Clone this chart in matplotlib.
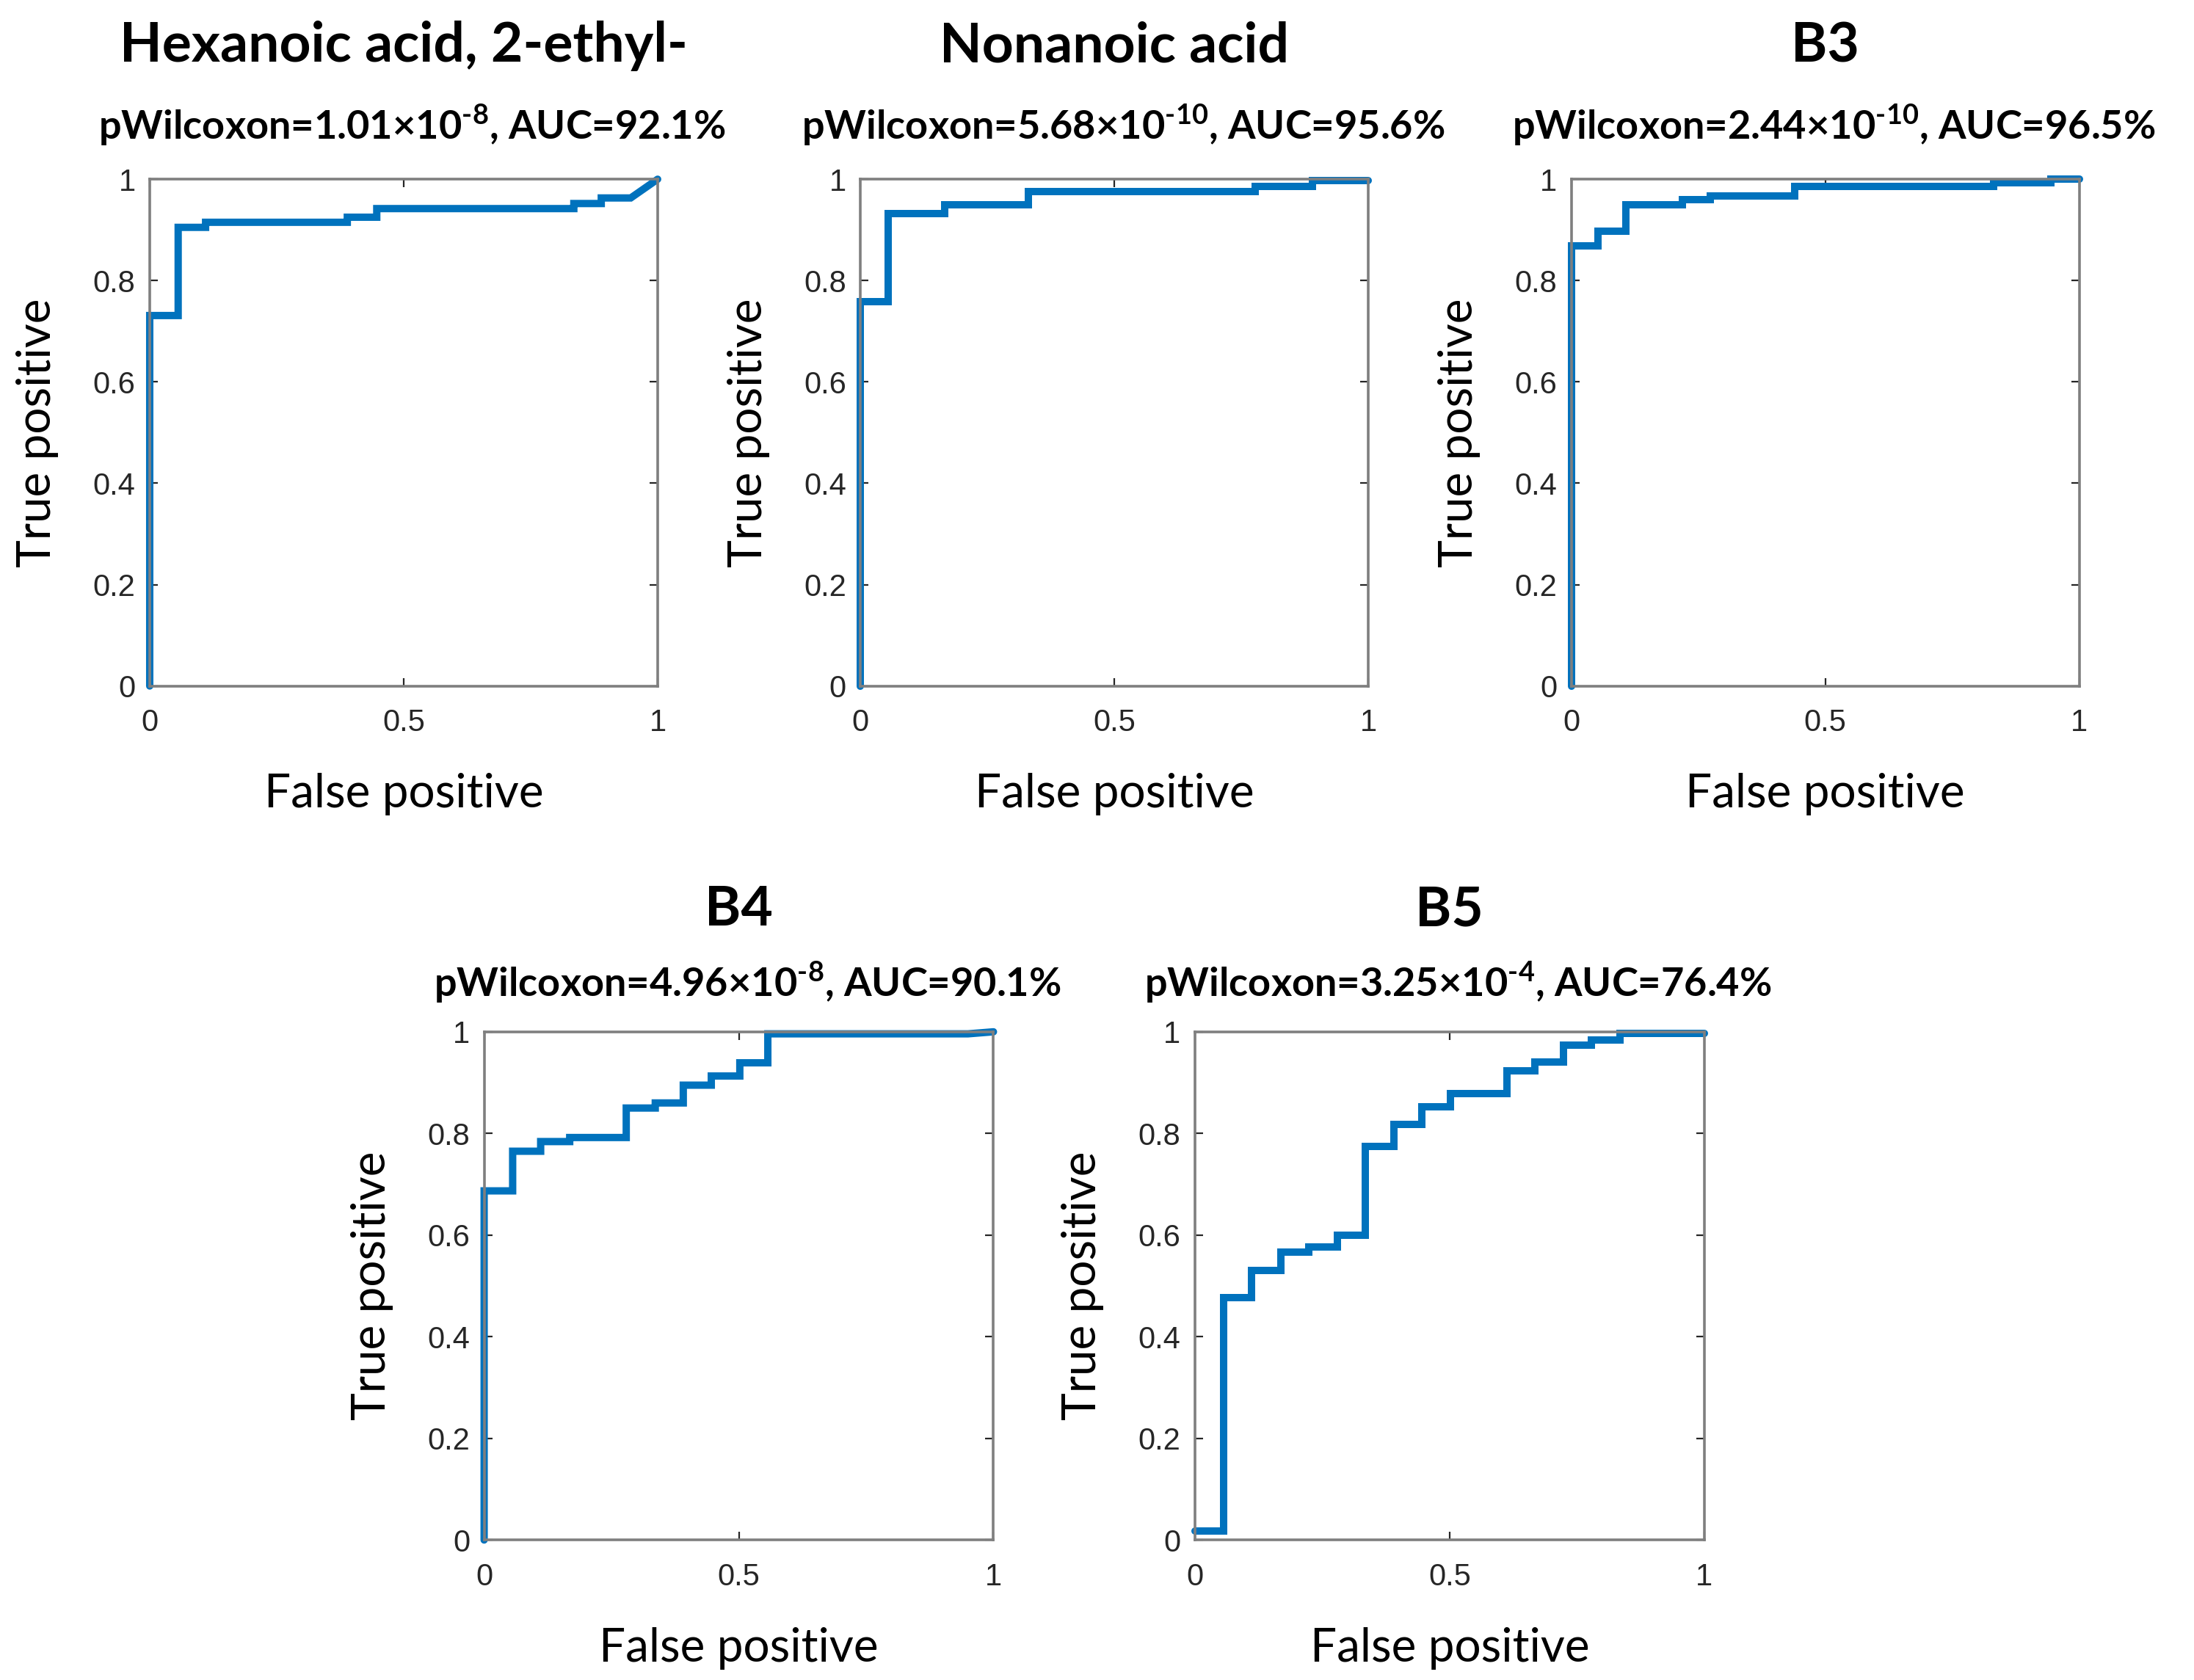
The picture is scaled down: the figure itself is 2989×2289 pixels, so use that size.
import matplotlib
matplotlib.use("Agg")
import matplotlib.pyplot as plt

plt.rcParams['mathtext.fontset'] = 'custom'
plt.rcParams['mathtext.rm'] = 'Lato:bold'
plt.rcParams['mathtext.it'] = 'Lato:bold'
plt.rcParams['mathtext.bf'] = 'Lato:bold'

# Panel titles and statistics
titles = ["Hexanoic acid, 2-ethyl-", "Nonanoic acid", "B3", "B4", "B5"]
p_mant = ["1.01", "5.68", "2.44", "4.96", "3.25"]
p_exp = ["-8", "-10", "-10", "-8", "-4"]
auc = ["92.1", "95.6", "96.5", "90.1", "76.4"]

# ROC curves (false positive, true positive)
fpr_hex = [0, 0, 0.056, 0.056, 0.11, 0.11, 0.389, 0.389, 0.447, 0.447, 0.835, 0.835, 0.889, 0.889, 0.947, 1.0]
tpr_hex = [0, 0.731, 0.731, 0.905, 0.905, 0.915, 0.915, 0.925, 0.925, 0.942, 0.942, 0.952, 0.952, 0.963, 0.963, 1.0]

fpr_non = [0, 0, 0.054, 0.054, 0.165, 0.165, 0.331, 0.331, 0.777, 0.777, 0.889, 0.889, 1.0]
tpr_non = [0, 0.758, 0.758, 0.932, 0.932, 0.949, 0.949, 0.976, 0.976, 0.986, 0.986, 0.997, 0.997]

fpr_b3 = [0, 0, 0.052, 0.052, 0.107, 0.107, 0.219, 0.219, 0.273, 0.273, 0.440, 0.440, 0.831, 0.831, 0.944, 0.944, 1.0]
tpr_b3 = [0, 0.868, 0.868, 0.898, 0.898, 0.950, 0.950, 0.960, 0.960, 0.967, 0.967, 0.986, 0.986, 0.993, 0.993, 1.0, 1.0]

fpr_b4 = [0, 0, 0.056, 0.056, 0.111, 0.111, 0.168, 0.168, 0.279, 0.279, 0.336, 0.336, 0.391, 0.391,
          0.446, 0.446, 0.502, 0.502, 0.557, 0.557, 0.95, 1.0]
tpr_b4 = [0, 0.687, 0.687, 0.765, 0.765, 0.784, 0.784, 0.792, 0.792, 0.850, 0.850, 0.860, 0.860, 0.895,
          0.895, 0.913, 0.913, 0.939, 0.939, 0.996, 0.996, 1.0]

fpr_b5 = [0, 0.056, 0.056, 0.111, 0.111, 0.168, 0.168, 0.223, 0.223, 0.279, 0.279, 0.334, 0.334,
          0.391, 0.391, 0.446, 0.446, 0.502, 0.502, 0.612, 0.612, 0.668, 0.668, 0.723, 0.723,
          0.779, 0.779, 0.834, 0.834, 1.0]
tpr_b5 = [0.017, 0.017, 0.477, 0.477, 0.530, 0.530, 0.566, 0.566, 0.576, 0.576, 0.600, 0.600, 0.774,
          0.774, 0.818, 0.818, 0.853, 0.853, 0.879, 0.879, 0.923, 0.923, 0.940, 0.940, 0.974,
          0.974, 0.984, 0.984, 0.997, 0.997]

curves = [(fpr_hex, tpr_hex), (fpr_non, tpr_non), (fpr_b3, tpr_b3), (fpr_b4, tpr_b4), (fpr_b5, tpr_b5)]

# axes boxes in figure fractions [left, bottom, width, height]
W, H = 1568.0, 1200.0
boxes = [
    [107 / W, 1 - 490 / H, 363 / W, 362 / H],
    [615 / W, 1 - 490 / H, 363 / W, 362 / H],
    [1123 / W, 1 - 490 / H, 363 / W, 362 / H],
    [346 / W, 1 - 1100 / H, 364 / W, 363 / H],
    [854 / W, 1 - 1100 / H, 364 / W, 363 / H],
]
title_y = [33, 33, 33, 650, 650]
sub_y = [90, 90, 90, 702, 702]

fig = plt.figure(figsize=(29.89 / 2, 22.89 / 2), dpi=200)

for i in range(5):
    ax = fig.add_axes(boxes[i])
    x, y = curves[i]
    ax.plot(x, y, color='#0072BD', lw=3.6, solid_joinstyle='miter',
            solid_capstyle='round', clip_on=False)
    ax.set_xlim(0, 1)
    ax.set_ylim(0, 1)
    ax.set_xticks([0, 0.5, 1])
    ax.set_xticklabels(["0", "0.5", "1"])
    ax.set_yticks([0, 0.2, 0.4, 0.6, 0.8, 1])
    ax.set_yticklabels(["0", "0.2", "0.4", "0.6", "0.8", "1"])
    ax.tick_params(direction='in', length=4, width=0.8, color='#262626',
                   top=True, right=True, labelsize=15, labelcolor='#262626')
    ax.tick_params(axis='y', pad=7)
    ax.tick_params(axis='x', pad=11)
    for lab in ax.get_xticklabels() + ax.get_yticklabels():
        lab.set_fontfamily('Liberation Sans')
    for sp in ax.spines.values():
        sp.set_color('#7f7f7f')
        sp.set_linewidth(1.3)

    ax.set_xlabel("False positive", fontsize=23, family='Lato')
    ax.xaxis.label.set_verticalalignment('center')
    ax.xaxis.set_label_coords(0.5, -77 / 362)
    ax.set_ylabel("True positive", fontsize=23, family='Lato')
    ax.yaxis.label.set_verticalalignment('center')
    ax.yaxis.set_label_coords(-80 / 363, 0.5)

    cx = boxes[i][0] + boxes[i][2] / 2
    fig.text(cx, 1 - title_y[i] / H, titles[i], ha='center', va='center',
             fontsize=27, fontweight='bold', family='Lato')
    sub = "pWilcoxon=" + p_mant[i] + "×10$^{\\text{" + p_exp[i] + "}}$, AUC=" + auc[i] + "%"
    fig.text(cx + 6 / W, 1 - sub_y[i] / H, sub, ha='center', va='center',
             fontsize=19.5, fontweight='bold', family='Lato')

fig.savefig("out.png", dpi=200, facecolor='white')
